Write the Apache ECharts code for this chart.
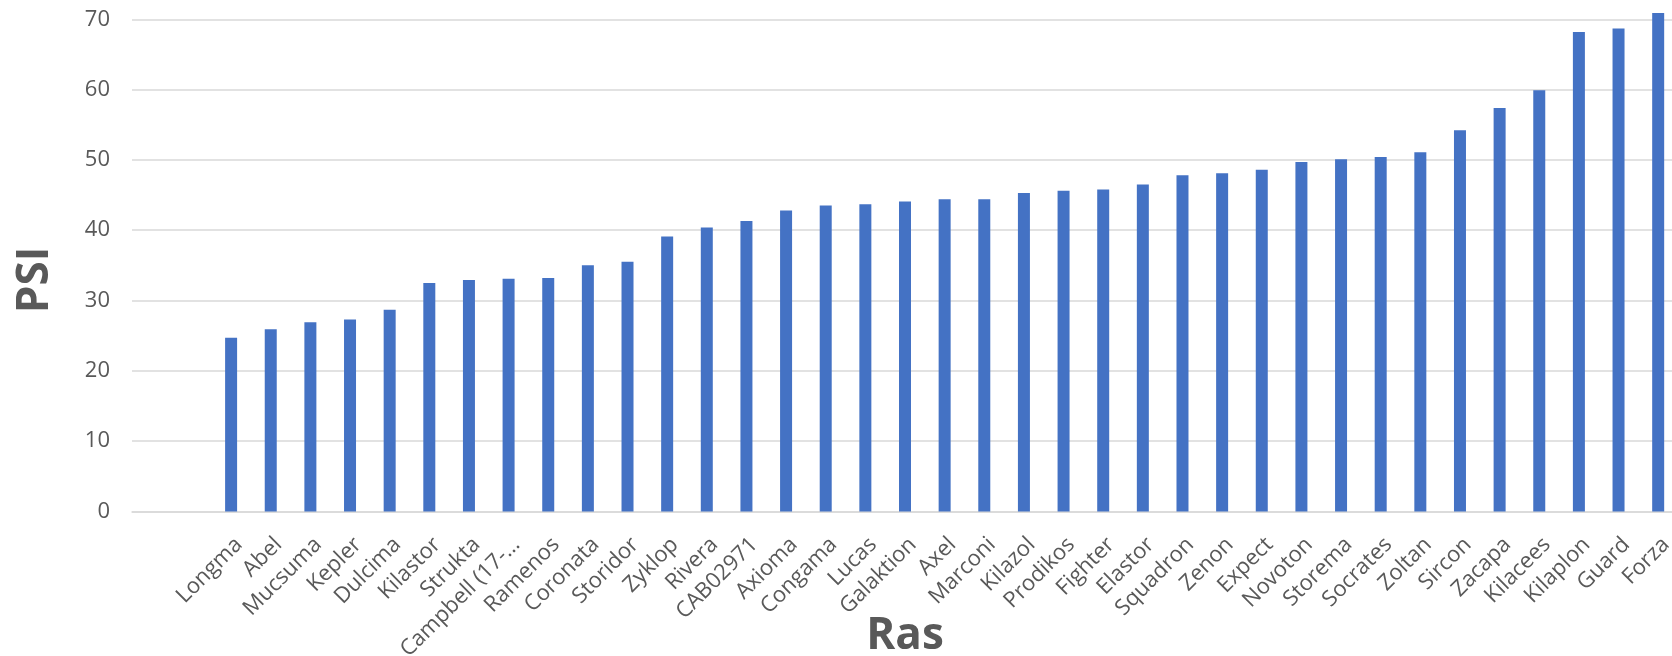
<!DOCTYPE html>
<html>
<head>
<meta charset="utf-8">
<script src="https://cdn.jsdelivr.net/npm/echarts@6/dist/echarts.min.js"></script>
<style>
html,body{margin:0;padding:0;background:#fff;}
#chart{width:1672px;height:656px;}
</style>
</head>
<body>
<div id="chart"></div>
<script>
// Two leading empty category slots, as in the reference
const categories = ['', '', 'Longma', 'Abel', 'Mucsuma', 'Kepler', 'Dulcima', 'Kilastor', 'Strukta', 'Campbell (17-…', 'Ramenos', 'Coronata', 'Storidor', 'Zyklop', 'Rivera', 'CAB02971', 'Axioma', 'Congama', 'Lucas', 'Galaktion', 'Axel', 'Marconi', 'Kilazol', 'Prodikos', 'Fighter', 'Elastor', 'Squadron', 'Zenon', 'Expect', 'Novoton', 'Storema', 'Socrates', 'Zoltan', 'Sircon', 'Zacapa', 'Kilacees', 'Kilaplon', 'Guard', 'Forza'];
const psiValues = [null, null, 24.7, 25.9, 26.9, 27.3, 28.7, 32.5, 32.9, 33.1, 33.2, 35.0, 35.5, 39.1, 40.4, 41.3, 42.8, 43.5, 43.7, 44.1, 44.4, 44.4, 45.3, 45.6, 45.8, 46.5, 47.8, 48.1, 48.6, 49.7, 50.1, 50.4, 51.1, 54.2, 57.4, 59.9, 68.2, 68.7, 70.9];
const yTicks = {min: 0, max: 70, interval: 10};
const xTitle = 'Ras';
const yTitle = 'PSI';

const chart = echarts.init(document.getElementById('chart'), null, {renderer: 'canvas'});
const FONT = '"Open Sans", sans-serif';
chart.setOption({
  animation: false,
  backgroundColor: '#ffffff',
  grid: {left: 132, right: -6, top: 19.3, bottom: 144.6, containLabel: false, outerBoundsMode: 'none'},
  xAxis: {
    type: 'category',
    data: categories,
    axisLine: {show: true, lineStyle: {color: '#d9d9d9', width: 1.5}},
    axisTick: {show: false},
    axisLabel: {rotate: 45, interval: 0, margin: 22, verticalAlign: 'top', color: '#595959', fontSize: 22, fontFamily: FONT, hideOverlap: false}
  },
  yAxis: {
    type: 'value',
    min: yTicks.min, max: yTicks.max, interval: yTicks.interval,
    axisLine: {show: false},
    axisTick: {show: false},
    axisLabel: {color: '#595959', fontSize: 22, fontFamily: FONT, margin: 22},
    splitLine: {lineStyle: {color: '#d9d9d9', width: 1.5}}
  },
  series: [{
    type: 'bar',
    data: psiValues,
    barWidth: 12,
    clip: false,
    itemStyle: {color: '#4472C4'}
  }],
  graphic: [
    {type: 'text', x: 905, y: 636, style: {text: xTitle, font: 'bold 44px ' + FONT, fill: '#595959', align: 'center', verticalAlign: 'middle'}},
    {type: 'text', rotation: Math.PI / 2, x: 35, y: 280, style: {text: yTitle, font: 'bold 44px ' + FONT, fill: '#595959', align: 'center', verticalAlign: 'middle'}}
  ]
});
</script>
</body>
</html>
